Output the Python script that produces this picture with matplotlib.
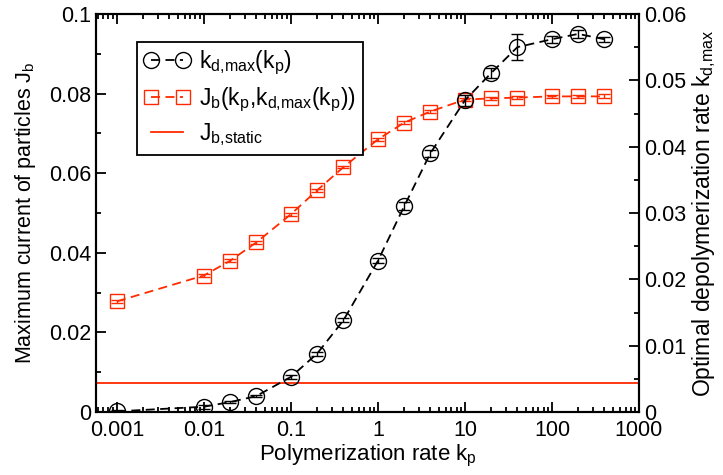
import numpy as np
import matplotlib
matplotlib.use("Agg")
from matplotlib import pyplot as plt
from matplotlib.ticker import FixedLocator, FixedFormatter, MultipleLocator, LogLocator

plt.rcParams['font.family'] = ['Liberation Sans', 'DejaVu Sans']
plt.rcParams['mathtext.fontset'] = 'custom'
plt.rcParams['mathtext.rm'] = 'Liberation Sans'
plt.rcParams['mathtext.it'] = 'Liberation Sans'

# data
kp = [0.001, 0.01, 0.02, 0.04, 0.1, 0.2, 0.4, 1, 2, 4, 10, 20, 40, 100, 200, 400]
kd_max = [0.0001, 0.0008, 0.0015, 0.0024, 0.0053, 0.0088, 0.0138, 0.0228, 0.0310,
          0.0390, 0.0470, 0.0511, 0.0550, 0.0562, 0.0570, 0.0562]
kd_err = [0.0002, 0.0003, 0.0002, 0.0002, 0.0003, 0.0003, 0.0003, 0.0004, 0.0006,
          0.0005, 0.0008, 0.0007, 0.0020, 0.0005, 0.0006, 0.0004]
jb = [0.0278, 0.0343, 0.0380, 0.0426, 0.0497, 0.0557, 0.0615, 0.0685, 0.0727,
      0.0755, 0.0785, 0.0788, 0.0790, 0.0793, 0.0793, 0.0793]
jb_err = [0.0004, 0.0004, 0.0004, 0.0004, 0.0004, 0.0003, 0.0003, 0.0003, 0.0003,
          0.0003, 0.0003, 0.0003, 0.0003, 0.0003, 0.0003, 0.0005]
jb_static = 0.0072

red = '#ff2a00'
dash = (0, (5, 3))

fig = plt.figure(figsize=(7.23, 4.75), dpi=100)
ax = fig.add_axes([0.1328, 0.1326, 0.7510, 0.8379])
ax2 = ax.twinx()

# black curve on right axis, red on left
ax2.errorbar(kp, kd_max, yerr=kd_err, color='black', ls=dash, lw=1.3,
             marker='o', ms=11.5, mfc='none', mec='black', mew=1.0,
             ecolor='black', elinewidth=1.0, capsize=4, capthick=1.0, zorder=3)
ax.errorbar(kp, jb, yerr=jb_err, color=red, ls=dash, lw=1.3,
            marker='s', ms=10, mfc='none', mec=red, mew=1.0,
            ecolor=red, elinewidth=1.0, capsize=4, capthick=1.0, zorder=3)
ax.axhline(jb_static, color=red, lw=1.3)

# legend proxies
h1, = ax.plot([], [], color='black', ls=dash, lw=1.3, marker='o', ms=11.5,
              mfc='none', mec='black', mew=1.0)
h2, = ax.plot([], [], color=red, ls=dash, lw=1.3, marker='s', ms=10,
              mfc='none', mec=red, mew=1.0)
h3, = ax.plot([], [], color=red, lw=1.3)
leg = ax.legend([h1, h2, h3],
                [r'k$_{\mathrm{d{,}max}}$(k$_{\mathrm{p}}$)',
                 r'J$_{\mathrm{b}}$(k$_{\mathrm{p}}$,k$_{\mathrm{d{,}max}}$(k$_{\mathrm{p}}$))',
                 r'J$_{\mathrm{b{,}static}}$'],
                numpoints=2, loc='upper left', bbox_to_anchor=(0.0755, 0.930),
                borderaxespad=0, fontsize=16.5, frameon=True, fancybox=False,
                edgecolor='black', framealpha=1, handlelength=2.0,
                handletextpad=0.4, borderpad=0.3, labelspacing=0.35)
leg.get_frame().set_linewidth(1.3)

ax.set_xscale('log')
ax.set_xlim(10 ** -3.24, 1000)
ax.set_ylim(0, 0.1)
ax2.set_ylim(0, 0.06)

xt = [0.001, 0.01, 0.1, 1, 10, 100, 1000]
ax.xaxis.set_major_locator(FixedLocator(xt))
ax.xaxis.set_major_formatter(FixedFormatter(['0.001', '0.01', '0.1', '1', '10', '100', '1000']))
ax.xaxis.set_minor_locator(LogLocator(base=10, subs=np.arange(2, 10), numticks=20))

ax.set_yticks([0, 0.02, 0.04, 0.06, 0.08, 0.1])
ax.set_yticklabels(['0', '0.02', '0.04', '0.06', '0.08', '0.1'])
ax.yaxis.set_minor_locator(MultipleLocator(0.01))
ax2.set_yticks([0, 0.01, 0.02, 0.03, 0.04, 0.05, 0.06])
ax2.set_yticklabels(['0', '0.01', '0.02', '0.03', '0.04', '0.05', '0.06'])
ax2.yaxis.set_minor_locator(MultipleLocator(0.005))

ax.tick_params(axis='x', which='both', direction='in', top=True, labelsize=15.5, pad=6)
ax.tick_params(axis='y', which='both', direction='in', right=False, labelsize=15.5)
ax.tick_params(which='major', length=7, width=1.3)
ax.tick_params(which='minor', length=3.5, width=1.3)
ax2.tick_params(axis='y', which='both', direction='in', labelsize=15.5)
ax2.tick_params(which='major', length=7, width=1.3)
ax2.tick_params(which='minor', length=3.5, width=1.3)

for a in (ax, ax2):
    for s in a.spines.values():
        s.set_linewidth(1.5)

ax.set_xlabel(r'Polymerization rate k$_{\mathrm{p}}$', fontsize=16, labelpad=1)
ax.set_ylabel(r'Maximum current of particles J$_{\mathrm{b}}$', fontsize=15.5, labelpad=8)
ax2.set_ylabel(r'Optimal depolymerization rate k$_{\mathrm{d{,}max}}$', fontsize=16.5, labelpad=3)

fig.savefig('out.png', dpi=100)
